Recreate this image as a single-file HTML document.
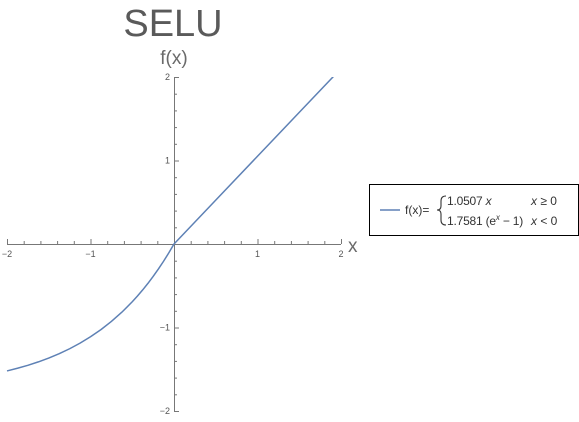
<!DOCTYPE html>
<html><head><meta charset="utf-8"><style>
body{margin:0;background:#fff;width:579px;height:422px;overflow:hidden;font-family:"Liberation Sans",sans-serif}
</style></head><body>
<svg width="579" height="422" style="position:absolute;left:0;top:0">
<text x="173" y="36" text-anchor="middle" font-size="38" fill="#5a5a5a">SELU</text>
<text x="174" y="64" text-anchor="middle" font-size="19" fill="#6a6a6a">f(x)</text>
<text x="348" y="252" font-size="19" fill="#6a6a6a">x</text>
<g id="axes"></g>
<clipPath id="clip"><rect x="0" y="77" width="345" height="335"/></clipPath>
<polyline id="curve" clip-path="url(#clip)" fill="none" stroke="#5e81b5" stroke-width="1.5" stroke-linejoin="round"/>
<g>
<rect x="369.5" y="184.5" width="209" height="51" fill="#fff" stroke="#000" stroke-width="1"/>
<line x1="380" y1="210" x2="400" y2="210" stroke="#5e81b5" stroke-width="1.5"/>
<text x="405" y="214" font-size="12" fill="#333">f(x)=</text>
<path d="M446,196 Q441,196 441,201 L441,206 Q441,210 437,210 Q441,210 441,214 L441,220 Q441,225 446,225" fill="none" stroke="#333" stroke-width="1.1"/>
<text x="447" y="205" font-size="12" fill="#333" letter-spacing="-0.2">1.0507 <tspan font-style="italic">x</tspan></text>
<text x="531" y="205" font-size="12" fill="#333"><tspan font-style="italic">x</tspan> ≥ 0</text>
<text x="447" y="225" font-size="12" fill="#333" letter-spacing="-0.2">1.7581 (e<tspan font-size="8" dy="-5" font-style="italic">x</tspan><tspan dy="5"> − 1)</tspan></text>
<text x="531" y="225" font-size="12" fill="#333"><tspan font-style="italic">x</tspan> &lt; 0</text>
</g>
</svg>
<script>
const xValues=[-2,-1.875,-1.75,-1.625,-1.5,-1.375,-1.25,-1.125,-1,-0.875,-0.75,-0.625,-0.5,-0.4375,-0.375,-0.3125,-0.25,-0.1875,-0.125,-0.0625,0,0.5,1,1.5,2];
const yValues=[-1.5202,-1.4884,-1.4525,-1.4119,-1.3658,-1.3136,-1.2544,-1.1873,-1.1113,-1.0252,-0.9276,-0.8170,-0.6918,-0.6231,-0.5498,-0.4719,-0.3889,-0.3006,-0.2066,-0.1066,0,0.5254,1.0507,1.5761,2.1014];
const xTicks=[-2,-1,1,2];
const yTicks=[2,1,-1,-2];
const X0=174,Y0=244,S=83.5;
const sx=v=>X0+v*S, sy=v=>Y0-v*S;
const NS="http://www.w3.org/2000/svg";
const g=document.getElementById('axes');
function ln(x1,y1,x2,y2,name){const l=document.createElementNS(NS,'line');
l.setAttribute('x1',x1);l.setAttribute('y1',y1);l.setAttribute('x2',x2);l.setAttribute('y2',y2);
l.setAttribute('stroke','#777');l.setAttribute('stroke-width','1');


g.appendChild(l);}
function tx(x,y,s,anchor,name){const t=document.createElementNS(NS,'text');
t.setAttribute('x',x);t.setAttribute('y',y);t.setAttribute('font-size','9');t.setAttribute('fill','#555');t.setAttribute('text-anchor',anchor);t.textContent=s;


g.appendChild(t);}
ln(sx(-2),Y0+0.5,sx(2),Y0+0.5,'x-axis');
ln(X0+0.5,sy(2),X0+0.5,sy(-2),'y-axis');
for(let i=-20;i<=20;i+=2){const v=i/10;const major=i%10===0;
ln(sx(v)+0.5,Y0,sx(v)+0.5,Y0-(major?5:3),'x-tick');
ln(X0,sy(v)+0.5,X0+(major?5:3),sy(v)+0.5,'y-tick');}
xTicks.forEach(v=>tx(sx(v),Y0+13,v<0?'−'+(-v):String(v),'middle','x-tick-label'));
yTicks.forEach(v=>tx(X0-4,sy(v)+3,v<0?'−'+(-v):String(v),'end','y-tick-label'));
document.getElementById('curve').setAttribute('points',xValues.map((x,i)=>sx(x)+','+sy(yValues[i])).join(' '));
</script>
</body></html>
